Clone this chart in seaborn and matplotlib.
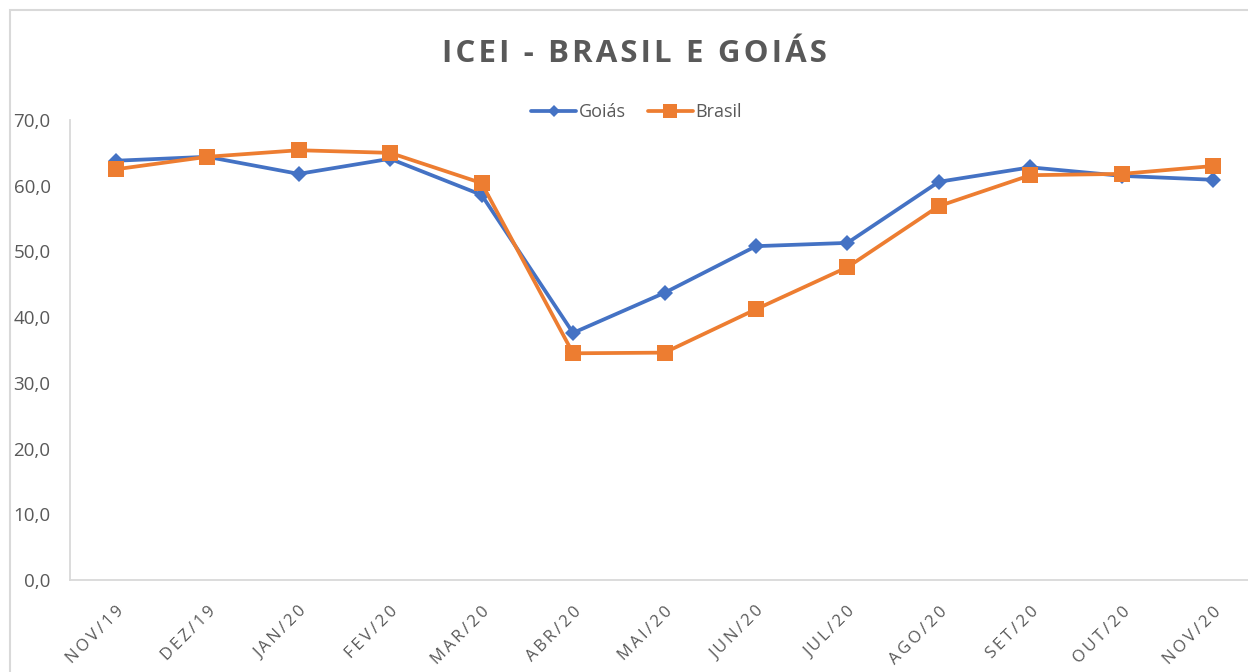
import matplotlib
matplotlib.use("Agg")
import matplotlib.pyplot as plt
import numpy as np
import pandas as pd
import seaborn as sns
from matplotlib.patches import Rectangle

meses = ['NOV/19', 'DEZ/19', 'JAN/20', 'FEV/20', 'MAR/20', 'ABR/20', 'MAI/20',
         'JUN/20', 'JUL/20', 'AGO/20', 'SET/20', 'OUT/20', 'NOV/20']
goias = [63.8, 64.4, 61.8, 64.1, 58.6, 37.6, 43.7, 50.8, 51.3, 60.6, 62.8, 61.5, 60.9]
brasil = [62.5, 64.4, 65.4, 65.0, 60.4, 34.5, 34.6, 41.2, 47.6, 56.9, 61.6, 61.8, 63.0]
y_ticks = [0, 10, 20, 30, 40, 50, 60, 70]

sns.set_theme(style="white")
plt.rcParams['font.family'] = ['Open Sans', 'DejaVu Sans']

cinza = '#595959'
azul = '#4472C4'
laranja = '#ED7D31'

df = pd.DataFrame({'pos': np.arange(len(meses)), 'Goiás': goias, 'Brasil': brasil})

fig = plt.figure(figsize=(12.48, 6.72), dpi=100)
ax = fig.add_axes([70/1248, 1 - 580/672, 1189/1248, 460/672])

sns.lineplot(data=df, x='pos', y='Goiás', ax=ax, color=azul, linewidth=2.7,
             marker='D', markersize=8, markeredgewidth=0, label='Goiás')
sns.lineplot(data=df, x='pos', y='Brasil', ax=ax, color=laranja, linewidth=2.7,
             marker='s', markersize=12, markeredgewidth=0, label='Brasil')

ax.set_xlim(-0.5, len(meses) - 0.5)
ax.set_ylim(0, 70)
ax.set_yticks(y_ticks)
ax.set_yticklabels([f'{v:.1f}'.replace('.', ',') for v in y_ticks])
ax.set_xticks(np.arange(len(meses)))
ax.set_xticklabels(['\u2009'.join(m) for m in meses], rotation=45, ha='right',
                   rotation_mode='anchor')
ax.set_xticks(np.arange(-0.5, len(meses), 1), minor=True)
ax.tick_params(axis='x', which='major', length=0, pad=17, labelsize=12, labelcolor=cinza)
ax.tick_params(axis='x', which='minor', length=6, width=1.2, color='#d9d9d9', direction='out')
ax.tick_params(axis='y', length=0, pad=14, labelsize=13.5, labelcolor=cinza)
ax.set_xlabel('')
ax.set_ylabel('')
for s in ['top', 'right']:
    ax.spines[s].set_visible(False)
for s in ['left', 'bottom']:
    ax.spines[s].set_color('#d9d9d9')
    ax.spines[s].set_linewidth(1.3)
ax.grid(False)

leg = ax.legend(loc='center', bbox_to_anchor=(0.51, 1 - 112/672), bbox_transform=fig.transFigure,
                ncol=2, frameon=False, fontsize=13, handlelength=2.5, handletextpad=0.15,
                columnspacing=1.2, markerscale=0.8)
for t in leg.get_texts():
    t.set_color(cinza)

fig.text(0.508, 1 - 54/672, '\u200a'.join('ICEI - BRASIL E GOIÁS'),
         ha='center', va='center', fontsize=22.5, fontweight='bold', color=cinza)

fig.patches.append(Rectangle((10/1248, -0.1), 1.2, 1 - 10/672 + 0.1, transform=fig.transFigure,
                             fill=False, edgecolor='#d9d9d9', linewidth=1.5))

fig.savefig('out.png', dpi=100)
